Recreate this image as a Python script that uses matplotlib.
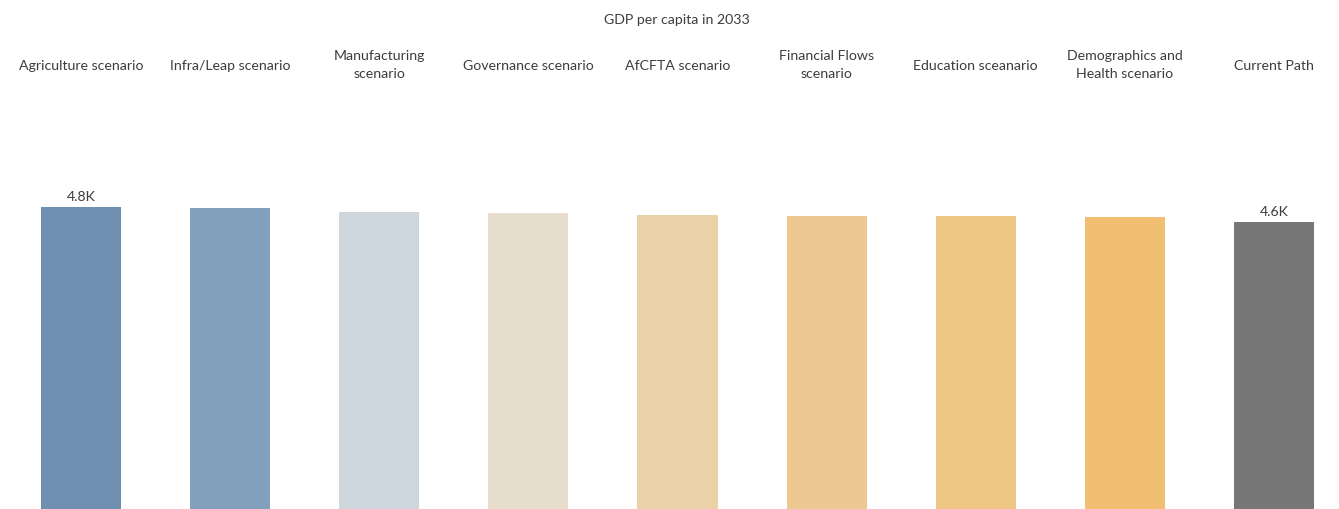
import matplotlib
matplotlib.use("Agg")
import matplotlib.pyplot as plt

scenarios = [
    "Agriculture scenario",
    "Infra/Leap scenario",
    "Manufacturing\nscenario",
    "Governance scenario",
    "AfCFTA scenario",
    "Financial Flows\nscenario",
    "Education sceanario",
    "Demographics and\nHealth scenario",
    "Current Path",
]
gdp_per_capita = [4820, 4799, 4740, 4724, 4692, 4671, 4671, 4651, 4576]
bar_colors = [
    "#6f8fb0", "#829fbb", "#ced6de", "#e6ddcc", "#ead1a8",
    "#edc991", "#eec684", "#f0bf72", "#777777",
]
labelled = {0: "4.8K", 8: "4.6K"}

W, H = 1339, 509
fig = plt.figure(figsize=(W / 100, H / 100), dpi=100)
plt.rcParams["font.family"] = ["Lato", "DejaVu Sans"]

# axes: x from 6.5px to 1348.5px, y from bottom edge up to 100px from top
ax_top_px = 100
ax = fig.add_axes([6.5 / W, 0, 1342 / W, (H - ax_top_px) / H])
px_per_unit = 302.3 / 4820
ymax = (H - ax_top_px) / px_per_unit

x = range(len(scenarios))
ax.bar(x, gdp_per_capita, width=80 / 149, color=bar_colors)
ax.set_xlim(-0.5, len(scenarios) - 0.5)
ax.set_ylim(0, ymax)
ax.axis("off")

for i, text in labelled.items():
    ax.annotate(text, (i, gdp_per_capita[i]), xytext=(0, 3), textcoords="offset points",
                ha="center", va="bottom", fontsize=10.2, color="#3d3d3d")

for i, name in enumerate(scenarios):
    xf = (6.5 + (i + 0.5) * 149.1) / W
    fig.text(xf, 1 - 65.5 / H, name, ha="center", va="center", fontsize=10.2,
             color="#3d3d3d", linespacing=1.6)

fig.text(677 / W, 1 - 20 / H, "GDP per capita in 2033", ha="center", va="center",
         fontsize=10.2, color="#3d3d3d")

fig.savefig("out.png", dpi=100)
